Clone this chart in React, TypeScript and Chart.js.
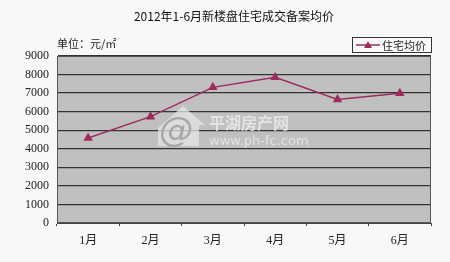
import React, { useEffect, useRef } from "react";
import { Chart, registerables } from "chart.js";

Chart.register(...registerables);

const title = "2012年1-6月新楼盘住宅成交备案均价";
const unitLabel = "单位：元/㎡";
const seriesName = "住宅均价";
const months = ["1月", "2月", "3月", "4月", "5月", "6月"];
const avgPrice = [4580, 5730, 7310, 7850, 6660, 6990];
const yMin = 0;
const yMax = 9000;
const yStep = 1000;
const watermarkName = "平湖房产网";
const watermarkUrl = "www.ph-fc.com";

const LINE = "#9e2b5e";
const FONT = '"Liberation Serif", "DejaVu Serif", "Noto Sans CJK SC", serif';
const CJK = '"Noto Sans CJK SC", "Liberation Serif", serif';

const decor = {
  id: "decor",
  beforeDraw(chart: any) {
    const { ctx, chartArea: a } = chart;
    ctx.save();
    ctx.fillStyle = "#f8f8f8";
    ctx.fillRect(0, 0, chart.width, chart.height);
    ctx.fillStyle = "#c0c0c0";
    ctx.fillRect(a.left, a.top, a.right - a.left, a.bottom - a.top);
    ctx.restore();
  },
  beforeDatasetsDraw(chart: any) {
    const { ctx } = chart;
    ctx.save();
    // watermark house + @
    ctx.globalAlpha = 0.75;
    ctx.fillStyle = "#e6e6e6";
    ctx.beginPath();
    ctx.moveTo(163, 124);
    ctx.lineTo(183, 106);
    ctx.lineTo(205, 125);
    ctx.lineTo(199, 125);
    ctx.lineTo(199, 146);
    ctx.lineTo(158, 146);
    ctx.lineTo(158, 128);
    ctx.closePath();
    ctx.fill();
    ctx.globalAlpha = 1;
    ctx.fillStyle = "#a8a8a8";
    ctx.font = `italic 34px "DejaVu Sans", sans-serif`;
    ctx.textAlign = "center";
    ctx.textBaseline = "middle";
    ctx.fillText("@", 176, 132);
    ctx.globalAlpha = 0.8;
    ctx.fillStyle = "#ececec";
    ctx.textAlign = "left";
    ctx.font = `bold 16px ${CJK}`;
    ctx.fillText(watermarkName, 209, 123);
    ctx.font = `13px "DejaVu Sans", sans-serif`;
    ctx.fillText(watermarkUrl, 209, 142);
    ctx.restore();
  },
  afterDatasetsDraw(chart: any) {
    const { ctx, chartArea: a } = chart;
    ctx.save();
    // plot border
    ctx.strokeStyle = "#555";
    ctx.lineWidth = 1;
    ctx.strokeRect(a.left + 0.5, a.top + 0.5, a.right - a.left - 1, a.bottom - a.top - 1);
    // title
    ctx.fillStyle = "#111";
    ctx.font = `12px ${CJK}`;
    ctx.textAlign = "center";
    ctx.textBaseline = "middle";
    ctx.fillText(title, 234, 16);
    // unit
    ctx.font = `11px ${CJK}`;
    ctx.textAlign = "left";
    ctx.fillStyle = "#222";
    ctx.fillText(unitLabel, 57, 44);
    // legend box
    const lx = 352, ly = 37, lw = 79, lh = 15;
    ctx.fillStyle = "#fafafa";
    ctx.fillRect(lx, ly, lw, lh);
    ctx.strokeStyle = "#333";
    ctx.strokeRect(lx + 0.5, ly + 0.5, lw, lh);
    const ds = chart.data.datasets[0];
    ctx.strokeStyle = LINE;
    ctx.lineWidth = 1.5;
    ctx.beginPath();
    ctx.moveTo(lx + 4, ly + lh / 2 + 0.5);
    ctx.lineTo(lx + 28, ly + lh / 2 + 0.5);
    ctx.stroke();
    ctx.fillStyle = LINE;
    ctx.beginPath();
    const cx = lx + 16, cy = ly + lh / 2 + 0.5;
    ctx.moveTo(cx, cy - 4);
    ctx.lineTo(cx + 4, cy + 3);
    ctx.lineTo(cx - 4, cy + 3);
    ctx.closePath();
    ctx.fill();
    ctx.fillStyle = "#222";
    ctx.font = `11px ${CJK}`;
    ctx.textAlign = "left";
    ctx.fillText(ds.label, lx + 30, ly + lh / 2 + 1);
    ctx.restore();
  },
};

export default function App() {
  const ref = useRef<HTMLCanvasElement>(null);
  useEffect(() => {
    document.body.style.margin = "0";
    const chart = new Chart(ref.current!, {
      type: "line",
      data: {
        labels: months,
        datasets: [
          {
            label: seriesName,
            data: avgPrice,
            borderColor: LINE,
            backgroundColor: LINE,
            borderWidth: 1.5,
            pointStyle: "triangle",
            pointRadius: 4,
            pointBackgroundColor: LINE,
            pointBorderColor: LINE,
            tension: 0,
          },
        ],
      },
      plugins: [decor],
      options: {
        animation: false,
        responsive: false,
        devicePixelRatio: 1,
        layout: { padding: { top: 56, right: 19, left: 0, bottom: 0 } },
        plugins: {
          legend: { display: false },
          title: { display: false },
          tooltip: { enabled: false },
        },
        scales: {
          x: {
            offset: true,
            grid: { display: true, drawOnChartArea: false, offset: true, color: "#444", tickLength: 3 },
            border: { display: true, color: "#444" },
            ticks: { color: "#222", font: { size: 12, family: FONT }, padding: 8 },
            afterFit: (s: any) => { s.height = 39; },
          },
          y: {
            min: yMin,
            max: yMax,
            ticks: {
              stepSize: yStep,
              color: "#222",
              font: { size: 12, family: FONT },
              padding: 8,
              callback: (v: any) => String(v),
            },
            grid: { color: "#333", lineWidth: 1.3, drawTicks: false },
            border: { display: true, color: "#444" },
            afterFit: (s: any) => { s.width = 57; },
          },
        },
      },
    });
    return () => chart.destroy();
  }, []);
  return (
    <div style={{ width: 450, height: 262 }}>
      <canvas ref={ref} width={450} height={262} style={{ display: "block" }} />
    </div>
  );
}
